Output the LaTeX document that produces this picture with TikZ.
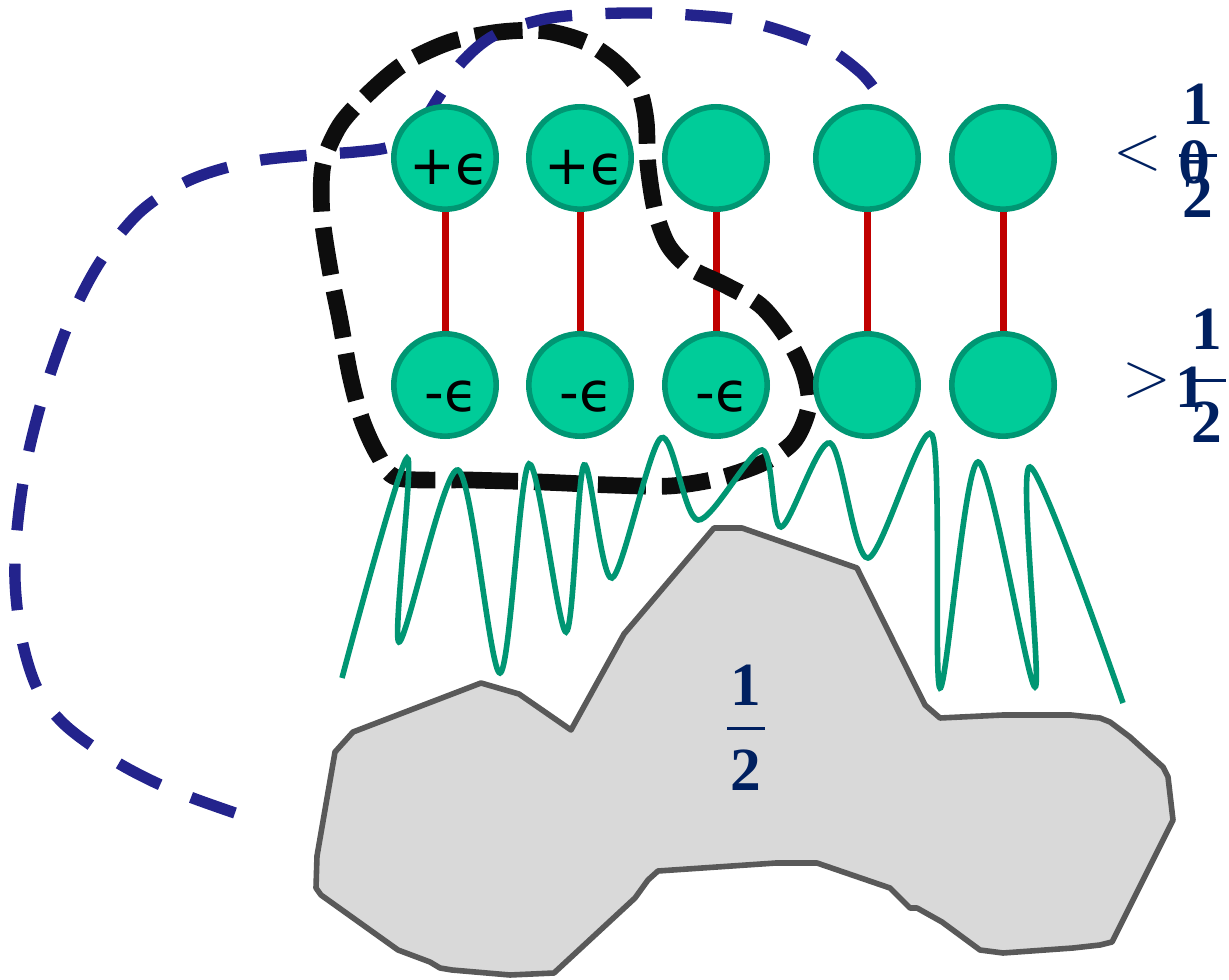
\documentclass[tikz,border=0pt]{standalone}
\usepackage{fontspec}
\setmainfont{Liberation Serif}
\newfontfamily\dv{DejaVu Sans}
\newfontfamily\lmr{Latin Modern Roman}
\definecolor{ballfill}{RGB}{0,204,153}
\definecolor{ballline}{RGB}{0,150,115}
\definecolor{rodred}{RGB}{192,0,0}
\definecolor{navy}{RGB}{0,32,96}
\definecolor{loopblack}{RGB}{13,13,13}
\definecolor{dashblue}{RGB}{35,35,140}
\definecolor{wavegreen}{RGB}{0,150,115}
\definecolor{blobline}{RGB}{89,89,89}
\definecolor{blobfill}{RGB}{217,217,217}
\newcommand\hfr[1]{\vbox{\hbox to 28pt{\hfil\bfseries 1\hfil}\kern#1\hrule height 2.4pt\kern 15pt\hbox to 28pt{\hfil\bfseries 2\hfil}}}
\begin{document}
\begin{tikzpicture}[x=0.75pt,y=-0.75pt,
  ball/.style={circle,draw=ballline,fill=ballfill,line width=4.2pt,minimum size=76.8pt,inner sep=0pt},
  eps/.style={font=\dv\fontsize{41}{41}\selectfont,inner sep=0pt,text=black},
  rod/.style={draw=rodred,line width=5.25pt},
  lab/.style={text=navy,inner sep=0pt,font=\fontsize{46}{50}\selectfont},
  rel/.style={text=navy,inner sep=0pt,font=\lmr\fontsize{48}{50}\selectfont},
  loopline/.style={draw=loopblack,line width=12.5pt,dash pattern=on 36pt off 12pt},
  bluedash/.style={draw=dashblue,line width=8.5pt,dash pattern=on 35pt off 25pt},
  wave/.style={draw=wavegreen,line width=4.2pt},
  blob/.style={draw=blobline,fill=blobfill,line width=4.2pt,line join=round}]
\useasboundingbox (0,0) rectangle (1229,980);

% grey blob
\draw[blob] (353,732) -- (481,683) -- (519,694) -- (571,730) -- (624,634) -- (714,528) -- (742,528) -- (857,568) -- (925,705) -- (940,718) -- (1003,715) -- (1071,715) -- (1100,718) -- (1110,722) -- (1130,737) -- (1163,767) -- (1168,777) -- (1173,820) -- (1112,942) -- (1100,945) -- (1073,948) -- (1003,953) -- (980,950) -- (942,922) -- (917,908) -- (910,908) -- (890,888) -- (817,863) -- (776,863) -- (658,871) -- (648,880) -- (635,898) -- (554,973) -- (510,975) -- (452,970) -- (440,968) -- (430,962) -- (398,950) -- (321,895) -- (316,888) -- (317,856) -- (335,752) -- cycle;
\node[lab] (fr0) at (746,728) {\hfr{16pt}};

% circle positions
\coordinate (pt1) at (445,158); \coordinate (pt2) at (580,158); \coordinate (pt3) at (716,158);
\coordinate (pt4) at (867,158); \coordinate (pt5) at (1003,158);
\coordinate (pb1) at (445,385); \coordinate (pb2) at (580,385); \coordinate (pb3) at (716,385);
\coordinate (pb4) at (867,385); \coordinate (pb5) at (1003,385);

% red rods (under circles)
\foreach \i in {1,...,5} \draw[rod] ([yshift=-40pt]pt\i) -- ([yshift=40pt]pb\i);

% black dashed loop
\draw[loopline] plot[smooth cycle, tension=0.5] coordinates {(398,478) (470,480) (540,482) (610,485) (670,486) (720,478) (765,462) (795,440) (809,405) (803,370) (785,335) (760,305) (725,285) (690,268) (668,245) (655,210) (648,165) (646,120) (638,88) (615,62) (585,42) (545,31) (500,32) (450,42) (405,63) (370,92) (340,125) (323,165) (322,215) (330,270) (340,320) (350,375) (362,420) (378,455)};

% green wave
\coordinate (w0) at (342,678);
\coordinate (w1) at (1123,703);
\draw[wave] plot[smooth, tension=0.5] coordinates {(w0) (407,458) (399,642) (458,470) (500,673) (529,464) (566,632) (584,465) (612,578) (661,438) (698,520) (762,450) (781,527) (830,443) (868,558) (932,435) (940,688) (978,462) (1035,687) (1030,467) (w1)};

% blue dashed connector
\coordinate (bs) at (235,813);
\coordinate (be) at (873,87);
\draw[bluedash] plot[smooth, tension=0.55] coordinates {(bs) (190,797) (150,780) (110,758) (65,725) (38,690) (22,640) (15,580) (18,520) (28,455) (45,390) (70,320) (100,262) (140,212) (190,180) (250,162) (310,155) (355,152) (392,146) (420,125) (440,95) (462,62) (495,35) (545,19) (595,14) (645,13) (690,15) (740,20) (785,32) (830,50) (860,72) (be)};

% circles
\foreach \i in {1,...,5} {
  \node[ball] (t\i) at (pt\i) {};
  \node[ball] (b\i) at (pb\i) {};
}

% epsilon labels
\node[eps] (e1) at ([shift={(4,10)}]t1.center) {+ϵ};
\node[eps] (e2) at ([shift={(4,10)}]t2.center) {+ϵ};
\node[eps] (e3) at ([shift={(6,12)}]b1.center) {-ϵ};
\node[eps] (e4) at ([shift={(6,12)}]b2.center) {-ϵ};
\node[eps] (e5) at ([shift={(6,12)}]b3.center) {-ϵ};

% right labels
\node[rel] (lt1) at (1138,154) {<};
\node[lab] (th1) at (1194,162) {\bfseries θ};
\node[lab] (fr1) at (1198,151) {\hfr{22pt}};
\node[rel] (gt1) at (1147,381) {>};
\node[lab] (one1) at (1191,387) {\bfseries 1};
\node[lab] (fr2) at (1207,376) {\hfr{22pt}};
\end{tikzpicture}
\end{document}
